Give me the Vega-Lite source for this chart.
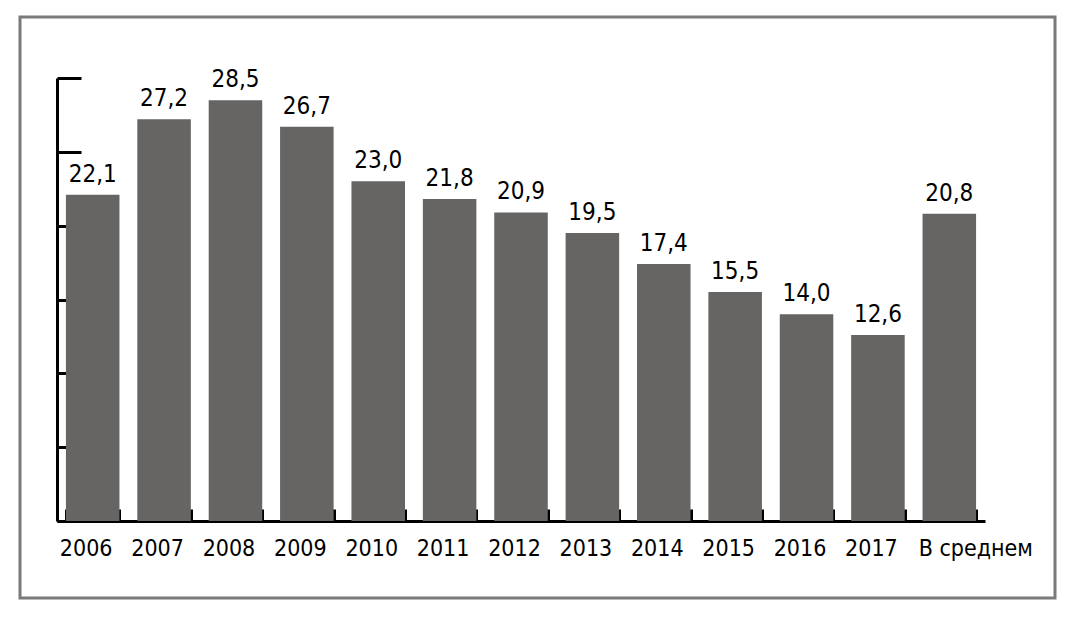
{
  "$schema": "https://vega.github.io/schema/vega-lite/v6.json",
  "autosize": {"type": "none"},
  "padding": {"left": 20, "top": 17, "right": 20, "bottom": 24},
  "width": 1035,
  "height": 581,
  "background": "white",
  "config": {
    "view": {"stroke": "#7a7a7a", "strokeWidth": 3},
    "font": "DejaVu Sans Condensed, sans-serif"
  },
  "data": {
    "values": [
      {"year": "2006", "value": 22.1, "label": "22,1"},
      {"year": "2007", "value": 27.2, "label": "27,2"},
      {"year": "2008", "value": 28.5, "label": "28,5"},
      {"year": "2009", "value": 26.7, "label": "26,7"},
      {"year": "2010", "value": 23.0, "label": "23,0"},
      {"year": "2011", "value": 21.8, "label": "21,8"},
      {"year": "2012", "value": 20.9, "label": "20,9"},
      {"year": "2013", "value": 19.5, "label": "19,5"},
      {"year": "2014", "value": 17.4, "label": "17,4"},
      {"year": "2015", "value": 15.5, "label": "15,5"},
      {"year": "2016", "value": 14.0, "label": "14,0"},
      {"year": "2017", "value": 12.6, "label": "12,6"},
      {"year": "В среднем", "value": 20.8, "label": "20,8"}
    ]
  },
  "encoding": {
    "x": {
      "field": "year",
      "type": "nominal",
      "sort": null,
      "scale": {"range": [37, 965], "paddingInner": 0.25, "paddingOuter": 0.125},
      "axis": {
        "title": null,
        "orient": "bottom",
        "offset": -77,
        "tickBand": "extent",
        "tickSize": -12,
        "tickWidth": 3,
        "tickColor": "black",
        "domainWidth": 3,
        "domainColor": "black",
        "labelAngle": 0,
        "labelFont": "DejaVu Sans Condensed",
        "labelFontSize": 23,
        "labelColor": "black",
        "labelPadding": 28,
        "labelOffset": {"condition": {"test": "datum.value === 'В среднем'", "value": 26}, "value": -7},
        "grid": false
      }
    },
    "y": {
      "field": "value",
      "type": "quantitative",
      "scale": {"domain": [0, 30], "range": [504, 61], "nice": false},
      "axis": {
        "title": null,
        "orient": "left",
        "offset": -37,
        "values": [0, 5, 10, 15, 20, 25, 30],
        "tickSize": -24,
        "tickWidth": 3,
        "tickColor": "black",
        "domainWidth": 3,
        "domainColor": "black",
        "labels": false,
        "grid": false
      }
    }
  },
  "layer": [
    {"mark": {"type": "bar", "color": "#676563"}},
    {
      "mark": {"type": "text", "baseline": "alphabetic", "dy": -13, "fontSize": 24, "font": "DejaVu Sans Condensed", "color": "black"},
      "encoding": {"text": {"field": "label"}}
    }
  ]
}
